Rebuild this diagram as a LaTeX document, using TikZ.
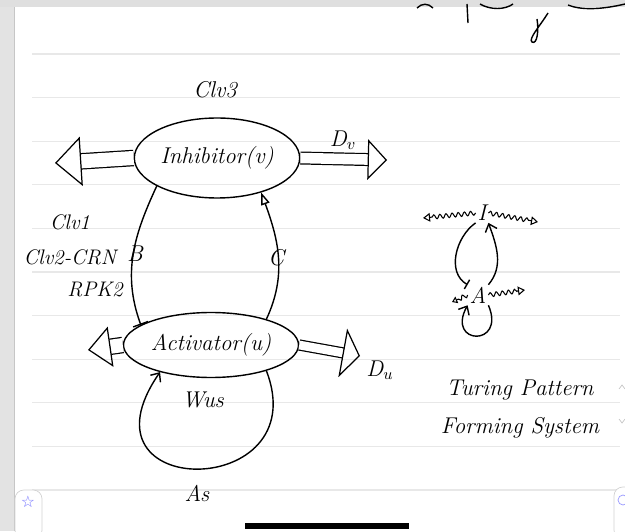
\documentclass[tikz,border=0pt]{standalone}
\usepackage{fontspec}
\newfontfamily\iconfont{DejaVu Sans}
\usetikzlibrary{shapes.geometric,arrows.meta,decorations.pathmorphing}

\begin{document}
\begin{tikzpicture}[x=0.02cm,y=0.02cm,
  hand/.style={font=\itshape\fontsize{13}{15}\selectfont, inner sep=1pt},
  small/.style={font=\itshape\fontsize{12}{14}\selectfont, inner sep=1pt},
  blob/.style={draw, ellipse, line width=0.8pt, inner sep=0pt, hand},
  fat/.style={line width=0.7pt, double, double distance=#1},
  ink/.style={line width=0.8pt},
  wavy/.style={line width=0.6pt, decorate,
    decoration={snake, amplitude=1.2pt, segment length=3.5pt, post length=4pt}},
  >={Straight Barb[length=4pt,width=7pt]}]
\useasboundingbox (0,0) rectangle (625,531);
% paper and ruling
\fill[gray!22] (0,0) rectangle (14,531);
\draw[gray!45] (14,0) -- (14,531);
\fill[gray!25] (0,524) rectangle (625,531);
\foreach \k in {0,...,10}
  \draw[gray!18, line width=0.6pt] (32,{477-43.6*\k}) -- (620,{477-43.6*\k});
% cut-off writing at the top
\draw[ink] (417,523) .. controls (422,528) and (428,528) .. (433,523);
\draw[ink] (467,527) -- (468,508);
\draw[ink] (480,527) .. controls (490,521) and (505,521) .. (513,527);
\draw[ink] (548,518) .. controls (540,505) and (528,492) .. (532,489)
  .. controls (537,486) and (539,500) .. (537,512);
\draw[ink] (568,526) .. controls (580,521) and (600,521) .. (625,527);

% the two ellipses
\node[blob, minimum width=3.1cm, minimum height=1.6cm] (inh) at (217,373) {Inhibitor(v)};
\node[blob, minimum width=3.45cm, minimum height=1.3cm] (act) at (211,186) {Activator(u)};

% diffusion arrows
\coordinate (inhL) at (55,368);
\coordinate (inhR) at (387,371);
\coordinate (actL) at (88,181);
\coordinate (actR) at (360,175);
\draw[fat=8pt, -{Triangle[open,length=15pt,width=28pt]}] (inh.west) -- (inhL);
\draw[fat=6pt, -{Triangle[open,length=11pt,width=23pt]}] (inh.east) -- (inhR);
\draw[fat=8pt, -{Triangle[open,length=13pt,width=23pt]}] (act.west) -- (actL);
\draw[fat=5pt, -{Triangle[open,length=10pt,width=28pt]}] (act.east) -- (actR);

% feedback arcs
\draw[ink, -{Bar[width=9pt]}] (inh.205) to[out=245, in=110] (act.164);
\draw[ink, -{Triangle[open,length=7pt,width=5pt]}] (act.25) to[out=65, in=290] (inh.322);
\draw[ink, ->] (act.335) .. controls +(50,-130) and +(-90,-130) .. (act.208);

% labels
\node[hand] (clvthree) at (215,441) {Clv3};
\node[hand] (dv) at (343,391) {D$_v$};
\node[small] (clvone) at (70,309) {Clv1};
\node[small] (clvtwo) at (70,274) {Clv2-CRN};
\node[hand] (labB) at (135,277) {B};
\node[small] (rpk) at (95,241) {RPK2};
\node[hand] (labC) at (276,273) {C};
\node[hand] (du) at (380,161) {D$_u$};
\node[hand] (wus) at (203,131) {Wus};
\node[hand] (as) at (197,38) {As};

% small sketch on the right
\node[hand] (nodeI) at (482,318) {I};
\node[hand] (nodeA) at (478,236) {A};
\coordinate (iL) at (423,313);
\coordinate (iR) at (538,309);
\coordinate (aL) at (452,229);
\coordinate (aR) at (525,241);
\draw[wavy, -{Triangle[open,length=4pt,width=5pt]}] (nodeI.west) -- (iL);
\draw[wavy, -{Triangle[open,length=4pt,width=5pt]}] (nodeI.east) -- (iR);
\draw[wavy, -{Triangle[open,length=3pt,width=4pt]}] (nodeA.west) -- (aL);
\draw[wavy, -{Triangle[open,length=4pt,width=5pt]}] (nodeA.east) -- (aR);
\draw[ink, -{Bar[width=6pt]}] (nodeI.south west) to[out=215, in=150] (nodeA.north west);
\draw[ink, ->] (nodeA.north east) to[out=50, in=-70] (nodeI.south east);
\draw[ink, ->] (nodeA.south east) .. controls +(18,-42) and +(-22,-40) .. (nodeA.south west);
\node[hand] (title1) at (520,141) {Turing Pattern};
\node[hand] (title2) at (520,103) {Forming System};

% screen furniture
\draw[gray!35, fill=white, rounded corners=5pt] (15,-8) rectangle (42,41);
\node[text=blue!55, font=\iconfont\small] (star) at (28,29) {☆};
\draw[gray!35, fill=white, rounded corners=5pt] (614,-8) rectangle (640,44);
\draw[blue!40] (623,31) circle (5);
\draw[line width=3.5pt] (245,5) -- (409,5);
\draw[gray!45] (619,142) -- (622,146) -- (625,142);
\draw[gray!45] (619,112) -- (622,108) -- (625,112);
\end{tikzpicture}
\end{document}
